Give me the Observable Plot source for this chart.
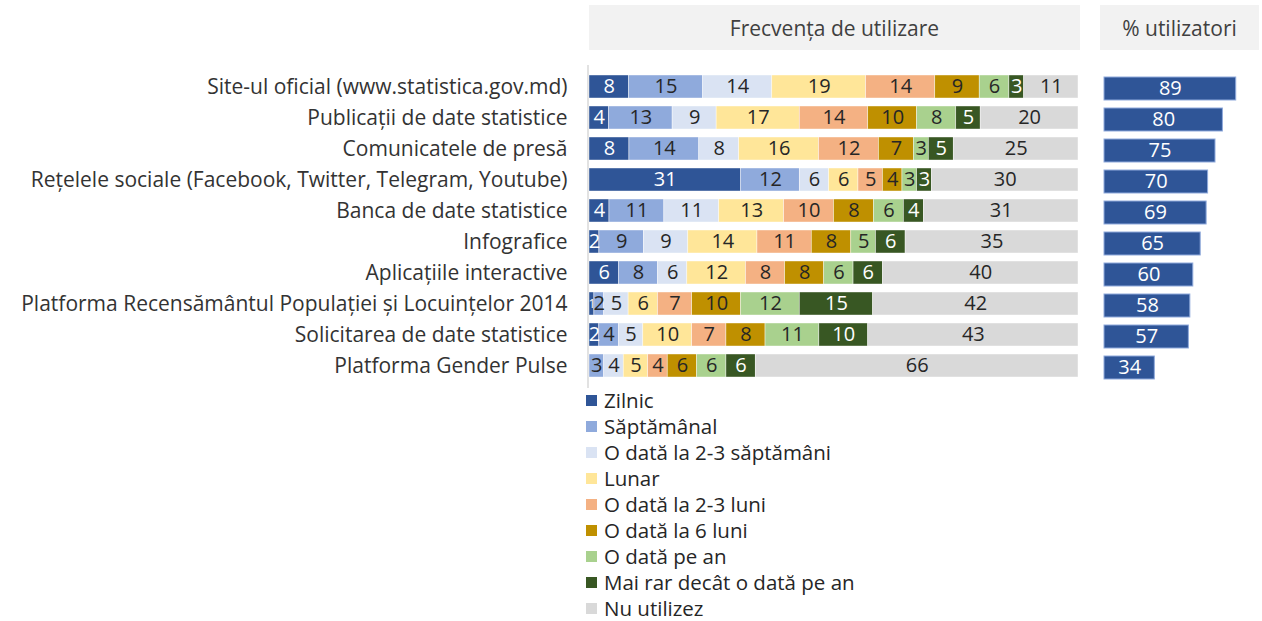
<!DOCTYPE html>
<html><head><meta charset="utf-8">
<script src="https://cdn.jsdelivr.net/npm/d3@7"></script>
<script src="https://cdn.jsdelivr.net/npm/@observablehq/plot@0.6"></script>
<style>
body{margin:0;background:#fff;font-family:"Open Sans",sans-serif;}
#wrap{position:relative;width:1262px;height:621px;overflow:hidden;background:#fff;}
.hdr{position:absolute;top:5px;height:45px;background:#f2f2f2;color:#404040;font-size:21px;display:flex;align-items:center;justify-content:center;font-family:"Open Sans",sans-serif;}
.lg-swatch{height:26px;padding-bottom:0 !important;line-height:25px;}
.lg-swatch, .lg-swatch *{overflow:visible !important;}
.lg-swatch svg{margin-right:7px !important;}
</style></head><body>
<div id="wrap">
 <div class="hdr" style="left:589px;width:491px;">Frecvența de utilizare</div>
 <div class="hdr" style="left:1100px;width:159px;">% utilizatori</div>
 <div id="left" style="position:absolute;left:0;top:0"></div>
 <div id="right" style="position:absolute;left:1090px;top:0"></div>
 <div id="legend" style="position:absolute;left:586px;top:387px"></div>
</div>
<script>
const categories = [
  "Site-ul oficial (www.statistica.gov.md)",
  "Publicații de date statistice",
  "Comunicatele de presă",
  "Rețelele sociale (Facebook, Twitter, Telegram, Youtube)",
  "Banca de date statistice",
  "Infografice",
  "Aplicațiile interactive",
  "Platforma Recensământul Populației și Locuințelor 2014",
  "Solicitarea de date statistice",
  "Platforma Gender Pulse"
];
const frequencies = ["Zilnic","Săptămânal","O dată la 2-3 săptămâni","Lunar","O dată la 2-3 luni","O dată la 6 luni","O dată pe an","Mai rar decât o dată pe an","Nu utilizez"];
const colors = ["#2f5597","#8faadc","#dae3f3","#ffe699","#f4b183","#bf9000","#a9d18e","#385723","#d9d9d9"];

const zilnic      = [8, 4, 8, 31, 4, 2, 6, 1, 2, 0];
const saptamanal  = [15,13,14,12,11, 9, 8, 2, 4, 3];
const sapt23      = [14, 9, 8, 6,11, 9, 6, 5, 5, 4];
const lunar       = [19,17,16, 6,13,14,12, 6,10, 5];
const luni23      = [14,14,12, 5,10,11, 8, 7, 7, 4];
const luni6       = [9, 10, 7, 4, 8, 8, 8,10, 8, 6];
const peAn        = [6,  8, 3, 3, 6, 5, 6,12,11, 6];
const maiRar      = [3,  5, 5, 3, 4, 6, 6,15,10, 6];
const nuUtilizez  = [11,20,25,30,31,35,40,42,43,66];
const series = [zilnic, saptamanal, sapt23, lunar, luni23, luni6, peAn, maiRar, nuUtilizez];

const utilizatori = [89,80,75,70,69,65,60,58,57,34];

const whiteLabels = ["Zilnic","Mai rar decât o dată pe an"];

const rows = [];
categories.forEach((c,i)=>frequencies.forEach((f,j)=>rows.push({cat:c, freq:f, value:series[j][i]})));
const usersData = categories.map((c,i)=>({cat:c, value:utilizatori[i]}));

const font = "'Open Sans', sans-serif";

const stackOpts = {x:"value", y:"cat", z:"freq", order:frequencies, offset:"normalize"};

const left = Plot.plot({
  width:1090, height:395,
  marginLeft:589, marginRight:12, marginTop:65, marginBottom:7,
  x:{domain:[0,1], axis:null},
  y:{domain:categories, padding:0.25, label:null, tickSize:0, tickPadding:22, fontSize:21},
  color:{domain:frequencies, range:colors},
  style:{fontFamily:font, fontSize:"21px", color:"#333333", background:"transparent"},
  marks:[
    Plot.ruleX([0], {stroke:"#d9d9d9", strokeWidth:1.5, dx:-1.5}),
    Plot.barX(rows, Plot.stackX({...stackOpts, fill:"freq", stroke:"#ffffff", strokeWidth:0.6, strokeOpacity:0.7})),
    Plot.text(rows, Plot.stackX({...stackOpts,
      text:d=>(d.value>0 && !whiteLabels.includes(d.freq)) ? String(d.value) : "",
      fill:"#262626", fontSize:20})),
    Plot.text(rows, Plot.stackX({...stackOpts,
      text:d=>(d.value>0 && whiteLabels.includes(d.freq)) ? String(d.value) : "",
      fill:"white", fontSize:d=>d.value<=1 ? 12 : 20}))
  ]
});
document.getElementById("left").appendChild(left);

const right = Plot.plot({
  width:172, height:395,
  marginLeft:14, marginRight:10, marginTop:67, marginBottom:5,
  x:{domain:[0,100], axis:null},
  y:{domain:categories, padding:0.25, axis:null},
  style:{fontFamily:font, fontSize:"20px", background:"transparent"},
  marks:[
    Plot.barX(usersData, {x:"value", y:"cat", fill:"#2f5597", stroke:"#8faadc", strokeWidth:1}),
    Plot.text(usersData, Plot.stackX({x:"value", y:"cat", text:"value", fill:"white", fontSize:20}))
  ]
});
document.getElementById("right").appendChild(right);

const lg = Plot.legend({
  color:{domain:frequencies, range:colors},
  legend:"swatches", columns:1, swatchSize:11, className:"lg",
  style:{fontFamily:font, fontSize:"20.5px", color:"#262626"}
});
document.getElementById("legend").appendChild(lg);
</script>
</body></html>
